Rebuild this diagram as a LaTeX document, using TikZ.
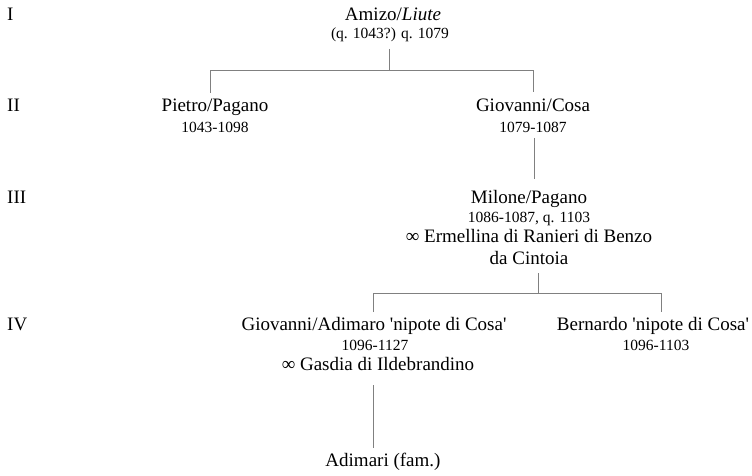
\documentclass[tikz,border=0pt]{standalone}
\usepackage{fontspec}
\setmainfont{Liberation Serif}[Ligatures=TeXOff]
\begin{document}
\begin{tikzpicture}[x=1pt,y=-1pt,
  main/.style={anchor=base,inner sep=0pt,font=\fontsize{19}{22}\selectfont},
  date/.style={anchor=base,inner sep=0pt,font=\fontsize{15.5}{18}\selectfont},
  gen/.style={anchor=base west,inner sep=0pt,font=\fontsize{19}{22}\selectfont},
  link/.style={draw=black!50,line width=1pt}]
\useasboundingbox (0,0) rectangle (752,476);
% generation labels
\node[gen] (gI) at (7,21) {I};
\node[gen] (gII) at (7,112) {II};
\node[gen] (gIII) at (7,203) {III};
\node[gen] (gIV) at (7,330) {IV};
% persons
\node[main] (amizo) at (393,21) {Amizo/\textit{Liute}};
\node[date] (amizoD) at (390,39) {(q. 1043?) q. 1079};
\node[main] (pietro) at (215,112) {Pietro/Pagano};
\node[date] (pietroD) at (215,132) {1043-1098};
\node[main] (giocosa) at (533,112) {Giovanni/Cosa};
\node[date] (giocosaD) at (533,132) {1079-1087};
\node[main] (milone) at (529,203) {Milone/Pagano};
\node[date] (miloneD) at (529,222) {1086-1087, q. 1103};
\node[main] (milone2) at (529,242) {∞ Ermellina di Ranieri di Benzo};
\node[main] (milone3) at (529,264) {da Cintoia};
\node[main] (gioadi) at (374,330) {Giovanni/Adimaro 'nipote di Cosa'};
\node[date] (gioadiD) at (375,350) {1096-1127};
\node[main] (gioadi2) at (378,370) {∞ Gasdia di Ildebrandino};
\node[main] (bernardo) at (653,330) {Bernardo 'nipote di Cosa'};
\node[date] (bernardoD) at (656,350) {1096-1103};
\node[main] (adimari) at (383,466) {Adimari (fam.)};
% junction coordinates
\coordinate (a1) at (389,49);
\coordinate (a2) at (389,71);
\coordinate (aL) at (210,71);
\coordinate (aR) at (533,71);
\coordinate (pT) at (210,93);
\coordinate (gT) at (533,92);
\coordinate (g1) at (534,138);
\coordinate (mT) at (534,179);
\coordinate (m1) at (538,273);
\coordinate (m2) at (538,293);
\coordinate (mL) at (373,293);
\coordinate (mR) at (661,293);
\coordinate (jT) at (373,312);
\coordinate (bT) at (661,312);
\coordinate (j1) at (373,385);
\coordinate (adT) at (373,448);
% connectors
\draw[link] (a1) -- (a2);
\draw[link] (pT) -- (aL) -- (aR) -- (gT);
\draw[link] (g1) -- (mT);
\draw[link] (m1) -- (m2);
\draw[link] (jT) -- (mL) -- (mR) -- (bT);
\draw[link] (j1) -- (adT);
\end{tikzpicture}
\end{document}
